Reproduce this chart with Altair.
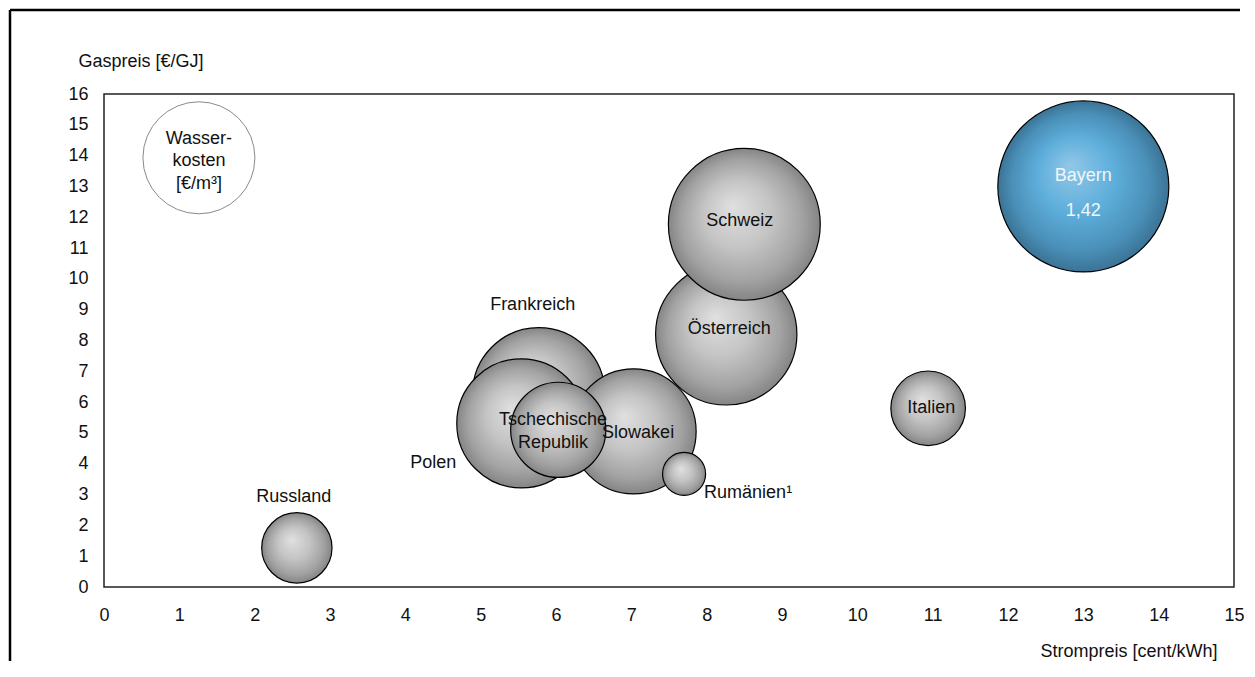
import altair as alt
import pandas as pd

# ---- data ----
laender = ["Russland", "Italien", "Frankreich", "Polen", "Slowakei", "Rumänien",
           "Tschechische Republik", "Österreich", "Schweiz", "Bayern"]
strompreis = [2.56, 10.94, 5.77, 5.54, 7.03, 7.70, 6.03, 8.26, 8.50, 13.0]   # cent/kWh
gaspreis = [1.27, 5.80, 6.27, 5.31, 5.05, 3.67, 5.10, 8.20, 11.77, 13.0]      # €/GJ
wasserkosten = [0.24, 0.27, 0.85, 0.81, 0.76, 0.09, 0.44, 0.97, 1.12, 1.42]   # €/m³
zeichenfolge = [1, 2, 3, 4, 5, 6, 7, 8, 9, 10]

label_text = ["Russland", "Italien", "Frankreich", "Polen", "Slowakei", "Rumänien¹",
              "Tschechische\nRepublik", "Österreich", "Schweiz"]
label_x = [2.52, 10.98, 5.69, 4.37, 7.09, 8.55, 5.96, 8.30, 8.44]
label_y = [2.92, 5.81, 9.16, 4.03, 5.00, 3.05, 5.43, 8.38, 11.88]

legende_text = ["Wasser-\nkosten\n[€/m³]"]
legende_x = [1.26]
legende_y = [14.55]
legende_kreis_y = [13.93]

x_ticks = list(range(0, 16))
y_ticks = list(range(0, 17))

FONT = "Liberation Sans"

df = pd.DataFrame({"land": laender, "x": strompreis, "y": gaspreis,
                   "wasser": wasserkosten, "z": zeichenfolge})
df_grau = df[df["land"] != "Bayern"]
df_bayern = df[df["land"] == "Bayern"]
df_lab = pd.DataFrame({"text": label_text, "x": label_x, "y": label_y})
df_leg = pd.DataFrame({"text": legende_text, "x": legende_x, "y": legende_y})
df_legk = pd.DataFrame({"x": legende_x, "y": legende_kreis_y})

X = alt.X("x:Q", scale=alt.Scale(domain=[0, 15], nice=False, zero=False),
          axis=alt.Axis(values=x_ticks, title="Strompreis [cent/kWh]",
                        titleX=1113, titleY=64, titleAlign="right",
                        titleBaseline="middle", labelFlush=False, labelOverlap=False,
                        labelBaseline="middle", labelPadding=28))
Y = alt.Y("y:Q", scale=alt.Scale(domain=[0, 16], nice=False, zero=False),
          axis=alt.Axis(values=y_ticks, title="Gaspreis [€/GJ]", titleAngle=0,
                        titleX=-26, titleY=-33, titleAlign="left",
                        titleBaseline="middle", labelOverlap=False, labelPadding=16,
                        labelFlush=False))
SIZE = alt.Size("wasser:Q", scale=alt.Scale(domain=[0, 1.42], range=[0, 29241]),
                legend=None)

grau = alt.RadialGradient(
    gradient="radial",
    stops=[alt.GradientStop(offset=0, color="#e0e0e0"),
           alt.GradientStop(offset=0.45, color="#c4c4c4"),
           alt.GradientStop(offset=0.8, color="#a2a2a2"),
           alt.GradientStop(offset=1, color="#858585")],
    x1=0.42, y1=0.38, r1=0, x2=0.5, y2=0.5, r2=0.5)
blau = alt.RadialGradient(
    gradient="radial",
    stops=[alt.GradientStop(offset=0, color="#92c8e8"),
           alt.GradientStop(offset=0.45, color="#5eaedb"),
           alt.GradientStop(offset=0.8, color="#4a90b9"),
           alt.GradientStop(offset=1, color="#3b7395")],
    x1=0.42, y1=0.38, r1=0, x2=0.5, y2=0.5, r2=0.5)

PAD_L, PAD_T, PAD_R, PAD_B = 96, 86, 12, 74
W, H = 1130, 493

rahmen_oben = alt.Chart(pd.DataFrame({"a": [0]})).mark_rule(
    stroke="black", strokeWidth=2.5
).encode(x=alt.value(-94), x2=alt.value(W + PAD_R - 6), y=alt.value(-84))
rahmen_links = alt.Chart(pd.DataFrame({"a": [0]})).mark_rule(
    stroke="black", strokeWidth=2.5
).encode(x=alt.value(-94), y=alt.value(-84), y2=alt.value(H + PAD_B))

legende_kreis = alt.Chart(df_legk).mark_circle(
    fill="white", stroke="#8a8a8a", strokeWidth=1, opacity=1, size=12544
).encode(x=X, y=Y)

blasen = alt.Chart(df_grau).mark_circle(
    fill=grau, stroke="black", strokeWidth=1.2, opacity=1
).encode(x=X, y=Y, size=SIZE, order=alt.Order("z:Q"))

bayern = alt.Chart(df_bayern).mark_circle(
    fill=blau, stroke="black", strokeWidth=1.2, opacity=1
).encode(x=X, y=Y, size=SIZE)

labels = alt.Chart(df_lab).mark_text(
    font=FONT, fontSize=18, color="#111", lineBreak="\n", lineHeight=23,
    baseline="middle", align="center"
).encode(x=X, y=Y, text="text:N")

bayern_label = alt.Chart(df_bayern).transform_calculate(
    t="datum.land + '\\n' + replace(format(datum.wasser, '.2f'), '.', ',')"
).mark_text(
    font=FONT, fontSize=18, color="#f2f6fa", lineBreak="\n", lineHeight=35,
    baseline="middle", align="center", dy=-10
).encode(x=X, y=Y, text="t:N")

legende_label = alt.Chart(df_leg).mark_text(
    font=FONT, fontSize=18, color="#111", lineBreak="\n", lineHeight=22.5,
    baseline="middle", align="center"
).encode(x=X, y=Y, text="text:N")

chart = alt.layer(
    rahmen_oben, rahmen_links, legende_kreis, blasen, bayern, labels,
    bayern_label, legende_label
).properties(
    width=W, height=H,
    background="white",
    autosize=alt.AutoSizeParams(type="none"),
    padding={"left": PAD_L, "top": PAD_T, "right": PAD_R, "bottom": PAD_B},
).configure_view(
    stroke="#222", strokeWidth=1.5
).configure_axis(
    domain=False, ticks=False, tickSize=0, grid=False,
    labelFont=FONT, labelFontSize=18, labelColor="#111",
    titleFont=FONT, titleFontSize=18, titleFontWeight="normal", titleColor="#111"
)

chart.save("out.html", embed_options={"renderer": "svg", "actions": False})
